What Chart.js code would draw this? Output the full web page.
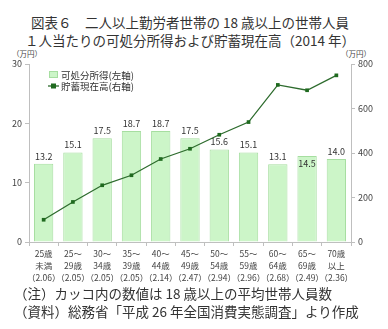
<!DOCTYPE html>
<html>
<head>
<meta charset="utf-8">
<script src="https://cdn.jsdelivr.net/npm/chart.js@4/dist/chart.umd.min.js"></script>
<style>
  body { margin: 0; width: 388px; height: 329px; background: #fff; position: relative; overflow: hidden;
         font-family: "Noto Sans CJK JP", sans-serif; color: #333; }
  .title { position: absolute; left: 0; width: 380px; text-align: center; font-size: 13.5px; line-height: 18px; top: 13px; white-space: nowrap; }
  .unit { position: absolute; top: 48px; font-size: 7.5px; color: #444; }
  .note { position: absolute; left: 14px; font-size: 13.5px; white-space: nowrap; color: #333; }
  #wrap { position: absolute; left: 0; top: 44px; width: 388px; height: 242px; }
</style>
</head>
<body>
<div class="title">図表６　二人以上勤労者世帯の 18 歳以上の世帯人員<br>１人当たりの可処分所得および貯蓄現在高（2014 年）</div>
<div class="unit" style="left:12px">（万円）</div>
<div class="unit" style="left:341px">（万円）</div>
<div id="wrap"><canvas id="chart"></canvas></div>
<div class="note" style="top:283px">（注）カッコ内の数値は 18 歳以上の平均世帯人員数</div>
<div class="note" style="top:301px">（資料）総務省「平成 26 年全国消費実態調査」より作成</div>

<script>
// DATA
const ageGroups = ["25歳|未満", "25～|29歳", "30～|34歳", "35～|39歳", "40～|44歳", "45～|49歳",
                   "50～|54歳", "55～|59歳", "60～|64歳", "65～|69歳", "70歳|以上"];
const householdSize = ["2.06", "2.05", "2.05", "2.05", "2.14", "2.47", "2.94", "2.96", "2.68", "2.49", "2.36"];
const income = [13.2, 15.1, 17.5, 18.7, 18.7, 17.5, 15.6, 15.1, 13.1, 14.5, 14.0];   // 左軸
const savings = [100, 180, 255, 300, 373, 419, 482, 539, 706, 682, 749];            // 右軸

const labels = ageGroups.map((g, i) => g.split("|").concat("（" + householdSize[i] + "）"));

const FONT = "'Noto Sans CJK JP', sans-serif";
const AXIS = "#bfbfbf";

// value labels on the bars
const barLabels = {
  id: "barLabels",
  afterDatasetDraw(chart, args) {
    if (args.index !== 0) return;
    const ctx = chart.ctx;
    ctx.save();
    ctx.font = "9px " + FONT;
    ctx.fillStyle = "#333";
    ctx.textAlign = "center";
    args.meta.data.forEach((bar, i) => {
      const txt = income[i].toFixed(1);
      if (i === 9) {
        ctx.textBaseline = "top";
        ctx.fillText(txt, bar.x, bar.y + 3);
      } else {
        ctx.textBaseline = "bottom";
        ctx.fillText(txt, bar.x, bar.y - 3);
      }
    });
    ctx.restore();
  }
};

// legend inside plot area
const innerLegend = {
  id: "innerLegend",
  afterDraw(chart) {
    const ctx = chart.ctx;
    const a = chart.chartArea;
    const x = a.left + 20, y = a.top + 7;
    const ds = chart.data.datasets;
    ctx.save();
    ctx.fillStyle = "#fff";
    ctx.fillRect(x - 2, y - 3, 86, 28);
    ctx.font = "9.5px " + FONT;
    ctx.textBaseline = "middle";
    ctx.fillStyle = ds[0].backgroundColor;
    ctx.strokeStyle = ds[0].borderColor;
    ctx.fillRect(x, y, 9, 7);
    ctx.strokeRect(x + 0.5, y + 0.5, 8, 6);
    ctx.fillStyle = "#333";
    ctx.fillText(ds[0].label, x + 12, y + 4);
    const ly = y + 15;
    ctx.strokeStyle = ds[1].borderColor;
    ctx.lineWidth = 1.3;
    ctx.beginPath(); ctx.moveTo(x - 1, ly); ctx.lineTo(x + 10, ly); ctx.stroke();
    ctx.fillStyle = ds[1].pointBackgroundColor;
    ctx.fillRect(x + 2, ly - 2.5, 5, 5);
    ctx.fillStyle = "#333";
    ctx.fillText(ds[1].label, x + 12, ly);
    ctx.restore();
  }
};

new Chart(document.getElementById("chart"), {
  type: "bar",
  data: {
    labels: labels,
    datasets: [
      {
        type: "bar",
        label: "可処分所得(左軸)",
        data: income,
        yAxisID: "y",
        backgroundColor: "#ccf5c8",
        borderColor: "#a6dea0",
        borderWidth: 1,
        categoryPercentage: 1,
        barPercentage: 0.66,
        order: 2
      },
      {
        type: "line",
        label: "貯蓄現在高(右軸)",
        data: savings,
        yAxisID: "y1",
        borderColor: "#2d6b2d",
        borderWidth: 1.3,
        pointStyle: "rect",
        pointRadius: 2.6,
        pointBackgroundColor: "#1f6a1f",
        pointBorderColor: "#1f6a1f",
        pointBorderWidth: 0,
        tension: 0,
        order: 1
      }
    ]
  },
  options: {
    responsive: true,
    maintainAspectRatio: false,
    animation: false,
    devicePixelRatio: 1,
    layout: { padding: { top: 20, left: 0, right: 0, bottom: 0 } },
    plugins: { legend: { display: false }, tooltip: { enabled: false } },
    scales: {
      x: {
        afterFit(s) { s.height = 44; },
        grid: { offset: true, drawOnChartArea: false, tickLength: 4, color: AXIS },
        border: { color: AXIS },
        ticks: { autoSkip: false, maxRotation: 0, minRotation: 0, padding: 2, color: "#444",
                 font: { size: 8.5, family: FONT, lineHeight: 1.4 } }
      },
      y: {
        position: "left",
        min: 0, max: 30,
        afterFit(s) { s.width = 29; },
        grid: { drawOnChartArea: false, tickLength: 4, color: AXIS },
        border: { color: AXIS },
        ticks: { stepSize: 10, padding: 3, color: "#444", font: { size: 9, family: FONT } }
      },
      y1: {
        position: "right",
        min: 0, max: 800,
        afterFit(s) { s.width = 37; },
        grid: { drawOnChartArea: false, tickLength: 4, color: AXIS },
        border: { color: AXIS },
        ticks: { stepSize: 200, padding: 3, color: "#444", font: { size: 9, family: FONT } }
      }
    }
  },
  plugins: [barLabels, innerLegend]
});
</script>
</body>
</html>
